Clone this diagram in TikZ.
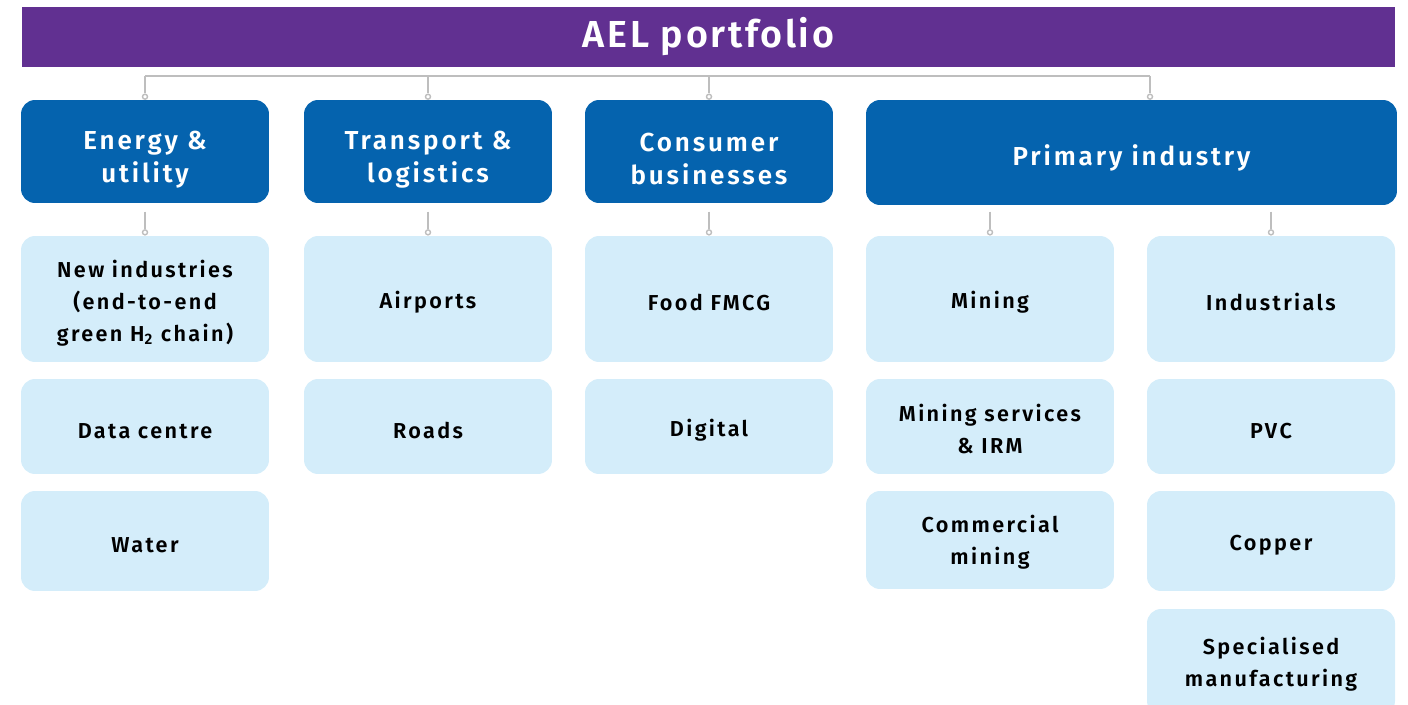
\documentclass[tikz,border=0pt]{standalone}
\usepackage{fontspec}
\setmainfont{Fira Sans}[LetterSpace=11, BoldFont={Fira Sans SemiBold}]
\newfontfamily\titlefont{Fira Sans}[LetterSpace=7, BoldFont={Fira Sans SemiBold}]
\usepackage{tikz}

\definecolor{aelpurple}{RGB}{97,48,145}
\definecolor{aelblue}{RGB}{5,99,174}
\definecolor{aelsky}{RGB}{212,237,250}
\definecolor{aelgrey}{RGB}{190,190,190}

\begin{document}
\begin{tikzpicture}[x=0.02cm,y=-0.02cm,
    head/.style={fill=aelblue, rounded corners=0.28cm, text=white, align=center, inner sep=0, text height=38.2pt,
      font=\bfseries\fontsize{14.8}{18.7}\selectfont, minimum width=4.96cm, minimum height=2.06cm},
    item/.style={fill=aelsky, rounded corners=0.28cm, align=center, inner sep=0, text height=13.6pt,
      font=\bfseries\fontsize{12.3}{18.4}\selectfont, minimum width=4.96cm},
    twoline/.style={text height=31pt},
    link/.style={draw=aelgrey, line width=1.1pt},
    pin/.style={circle, draw=aelgrey, fill=white, line width=0.8pt, inner sep=0, minimum size=0.1cm, anchor=north}]
    \useasboundingbox (0,0) rectangle (1408,705);
    \clip (0,0) rectangle (1408,705);

    \node[fill=aelpurple, text=white, font=\titlefont\bfseries\fontsize{21.4}{26}\selectfont, minimum width=27.46cm, minimum height=1.2cm, inner sep=0] (title) at (708.5,37) {AEL portfolio};

    \node[head] (energy) at (145,151.5) {Energy \&\\utility};
    \node[head] (transport) at (428,151.5) {Transport \&\\logistics};
    \node[head] (consumer) at (709,151.5) {Consumer\\businesses};
    \node[head, minimum width=10.62cm, minimum height=2.1cm, text height=17.7pt] (primary) at (1131.5,152.5) {Primary industry};

    \node[item, minimum height=2.52cm, text height=51.4pt] (newind) at (145,299) {New industries\\(end-to-end\\green H\textsubscript{2} chain)};
    \node[item, minimum height=1.9cm] (datacentre) at (145,426.5) {Data centre};
    \node[item, minimum height=2cm] (water) at (145,541) {Water};

    \node[item, minimum height=2.52cm] (airports) at (428,299) {Airports};
    \node[item, minimum height=1.9cm] (roads) at (428,426.5) {Roads};

    \node[item, minimum height=2.52cm] (food) at (709,299) {Food FMCG};
    \node[item, minimum height=1.9cm] (digital) at (709,426.5) {Digital};

    \node[item, minimum height=2.52cm] (mining) at (990,299) {Mining};
    \node[item, twoline, minimum height=1.9cm] (miningserv) at (990,426.5) {Mining services\\\& IRM};
    \node[item, twoline, minimum height=1.96cm] (commercial) at (990,540) {Commercial\\mining};

    \node[item, minimum height=2.52cm] (industrials) at (1271,299) {Industrials};
    \node[item, minimum height=1.9cm] (pvc) at (1271,426.5) {PVC};
    \node[item, minimum height=2cm] (copper) at (1271,541) {Copper};
    \node[item, twoline, minimum height=2.12cm] (specialised) at (1271,662) {Specialised\\manufacturing};

    % connectors from the title bar
    \coordinate (bus) at (0,76);
    \coordinate (pdrop) at (1150,100);
    \draw[link] (bus -| energy) -- (bus -| pdrop);
    \foreach \n in {energy,transport,consumer,pdrop}
      \draw[link] (bus -| \n) -- ++(0,17.5) node[pin]{};

    % connectors to the first row
    \foreach \n in {newind,airports,food,mining,industrials}
      \draw[link] (\n.north) ++(0,-24) -- ++(0,17.5) node[pin]{};
\end{tikzpicture}
\end{document}
